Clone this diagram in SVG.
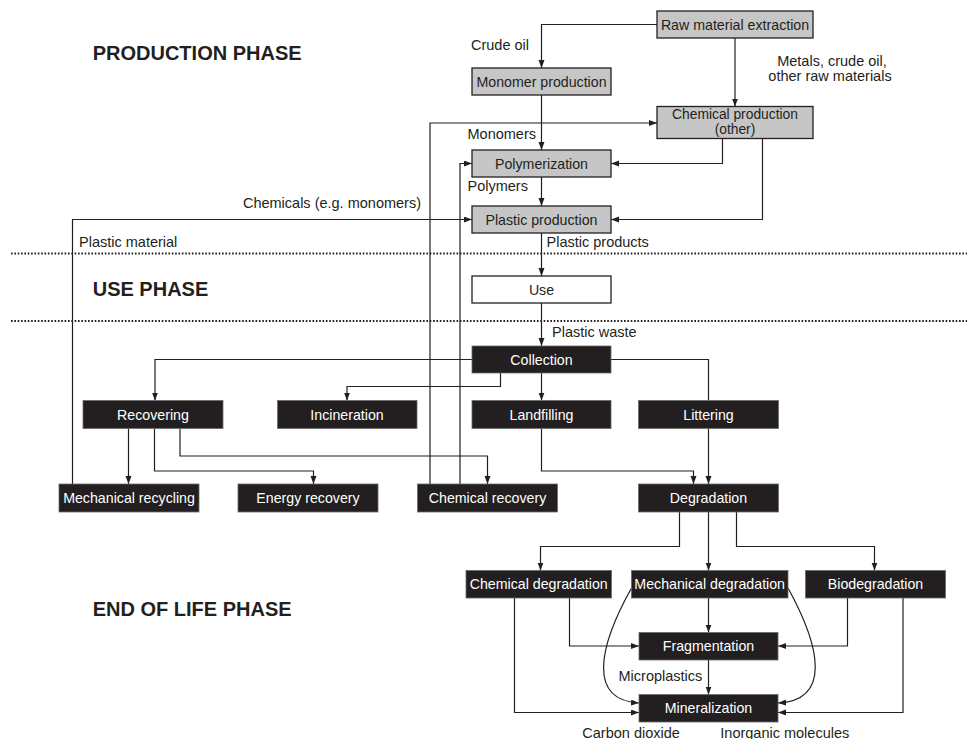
<svg xmlns="http://www.w3.org/2000/svg" width="968" height="739" viewBox="0 0 968 739">
<style>
.g rect{fill:#c6c6c6;stroke:#231f20;stroke-width:1.3}
.w rect{fill:#fff;stroke:#231f20;stroke-width:1.3}
.b rect{fill:#231f20;stroke:#6a6a6a;stroke-width:0.8}
.g text,.w text{fill:#231f20}
.b text{fill:#fff}
text{font-family:"Liberation Sans",Arial,sans-serif;font-size:14.2px}
.n text{text-anchor:middle}
.lbl{fill:#231f20;font-size:14.5px}
.ph{fill:#231f20;font-size:20px;font-weight:bold}
#connectors path{fill:none;stroke:#231f20;stroke-width:1.2}
.dot{stroke:#231f20;stroke-width:2;stroke-dasharray:1.6 1.75}
</style>
<defs>
<marker id="ah" markerUnits="userSpaceOnUse" markerWidth="9" markerHeight="7" refX="8" refY="3" orient="auto">
<path d="M0,0 L8,3 L0,6 z" fill="#231f20"/>
</marker>
</defs>
<rect width="968" height="739" fill="#fff"/>

<line class="dot" x1="11" y1="253.5" x2="967" y2="253.5"/>
<line class="dot" x1="11" y1="321" x2="967" y2="321"/>

<text class="ph" x="92.7" y="60">PRODUCTION PHASE</text>
<text class="ph" x="92.7" y="295.5">USE PHASE</text>
<text class="ph" x="92.7" y="615.5">END OF LIFE PHASE</text>

<g id="connectors">
<path d="M657,24.5 H541.5 V68" marker-end="url(#ah)"/>
<path d="M735,38 V106.5" marker-end="url(#ah)"/>
<path d="M541.5,95 V150" marker-end="url(#ah)"/>
<path d="M722.5,138.5 V163.5 H611" marker-end="url(#ah)"/>
<path d="M762.5,138.5 V219.5 H611" marker-end="url(#ah)"/>
<path d="M541.5,177 V206" marker-end="url(#ah)"/>
<path d="M541.5,233 V276" marker-end="url(#ah)"/>
<path d="M541.5,303 V346" marker-end="url(#ah)"/>
<path d="M472,359.5 H155 V400.5" marker-end="url(#ah)"/>
<path d="M500.5,373 V386.5 H347 V400.5" marker-end="url(#ah)"/>
<path d="M541.5,373 V400.5" marker-end="url(#ah)"/>
<path d="M611,359.5 H708.5 V400.5"/>
<path d="M128.5,428.5 V484" marker-end="url(#ah)"/>
<path d="M154.5,428.5 V471 H313.5 V484" marker-end="url(#ah)"/>
<path d="M180,428.5 V456 H487.5 V484" marker-end="url(#ah)"/>
<path d="M72.5,484 V219.5 H472" marker-end="url(#ah)"/>
<path d="M430,484 V123 H657" marker-end="url(#ah)"/>
<path d="M460,484 V163.5 H472" marker-end="url(#ah)"/>
<path d="M541.5,428.5 V471 H693.5 V484" marker-end="url(#ah)"/>
<path d="M708.5,428.5 V484" marker-end="url(#ah)"/>
<path d="M679.5,512 V546.5 H540.5 V570.5" marker-end="url(#ah)"/>
<path d="M708.5,512 V570.5" marker-end="url(#ah)"/>
<path d="M736.5,512 V546.5 H874.5 V570.5" marker-end="url(#ah)"/>
<path d="M708.5,598 V632.5" marker-end="url(#ah)"/>
<path d="M708.5,660 V694.5" marker-end="url(#ah)"/>
<path d="M569.5,598 V646 H639" marker-end="url(#ah)"/>
<path d="M514.5,598 V712.5 H639" marker-end="url(#ah)"/>
<path d="M847.5,598 V646 H778" marker-end="url(#ah)"/>
<path d="M903,598 V712.5 H778" marker-end="url(#ah)"/>
<path d="M631.5,588 C598,648 588,700 639,703" marker-end="url(#ah)"/>
<path d="M788,588 C821,648 831,700 778,703" marker-end="url(#ah)"/>
</g>

<g id="raw" class="n g"><rect x="657" y="11" width="156" height="27"/><text x="735" y="29.5">Raw material extraction</text></g>
<g id="monomer" class="n g"><rect x="472" y="68" width="139" height="27"/><text x="541.5" y="86.5">Monomer production</text></g>
<g id="chemprod" class="n g"><rect x="657" y="106.5" width="156" height="32"/><text x="735" y="118.5" style="font-size:13.8px">Chemical production</text><text x="735" y="133.8" style="font-size:13.8px">(other)</text></g>
<g id="polym" class="n g"><rect x="472" y="150" width="139" height="27"/><text x="541.5" y="168.5">Polymerization</text></g>
<g id="plasticprod" class="n g"><rect x="472" y="206" width="139" height="27"/><text x="541.5" y="224.5">Plastic production</text></g>
<g id="use" class="n w"><rect x="472" y="276" width="139" height="27"/><text x="541.5" y="294.5">Use</text></g>
<g id="collection" class="n b"><rect x="472" y="346" width="139" height="27"/><text x="541.5" y="364.5">Collection</text></g>
<g id="recovering" class="n b"><rect x="83" y="400.5" width="140" height="28"/><text x="153" y="419.5">Recovering</text></g>
<g id="incineration" class="n b"><rect x="277.5" y="400.5" width="139.5" height="28"/><text x="347" y="419.5">Incineration</text></g>
<g id="landfilling" class="n b"><rect x="472" y="400.5" width="139" height="28"/><text x="541.5" y="419.5">Landfilling</text></g>
<g id="littering" class="n b"><rect x="638.5" y="400.5" width="140" height="28"/><text x="708.5" y="419.5">Littering</text></g>
<g id="mechrec" class="n b"><rect x="59" y="484" width="140" height="28"/><text x="129" y="503">Mechanical recycling</text></g>
<g id="energy" class="n b"><rect x="238" y="484" width="140" height="28"/><text x="308" y="503">Energy recovery</text></g>
<g id="chemrec" class="n b"><rect x="417.5" y="484" width="140" height="28"/><text x="487.5" y="503">Chemical recovery</text></g>
<g id="degradation" class="n b"><rect x="638.5" y="484" width="140" height="28"/><text x="708.5" y="503">Degradation</text></g>
<g id="chemdeg" class="n b"><rect x="466" y="570.5" width="145.5" height="27.5"/><text x="538.7" y="589.3">Chemical degradation</text></g>
<g id="mechdeg" class="n b"><rect x="631.5" y="570.5" width="156.5" height="27.5"/><text x="709.7" y="589.3">Mechanical degradation</text></g>
<g id="biodeg" class="n b"><rect x="805.5" y="570.5" width="140" height="27.5"/><text x="875.5" y="589.3">Biodegradation</text></g>
<g id="frag" class="n b"><rect x="639" y="632.5" width="139" height="27.5"/><text x="708.5" y="651.3">Fragmentation</text></g>
<g id="mineral" class="n b"><rect x="639" y="694.5" width="139" height="27.5"/><text x="708.5" y="713.3">Mineralization</text></g>

<g id="labels">
<text class="lbl" x="471" y="50">Crude oil</text>
<text class="lbl" x="832" y="66" text-anchor="middle">Metals, crude oil,</text>
<text class="lbl" x="830" y="81" text-anchor="middle">other raw materials</text>
<text class="lbl" x="467.5" y="138.5">Monomers</text>
<text class="lbl" x="467.5" y="191">Polymers</text>
<text class="lbl" x="421" y="208" text-anchor="end">Chemicals (e.g. monomers)</text>
<text class="lbl" x="79" y="247">Plastic material</text>
<text class="lbl" x="546.5" y="247">Plastic products</text>
<text class="lbl" x="552" y="337">Plastic waste</text>
<text class="lbl" x="702.3" y="681" text-anchor="end">Microplastics</text>
<text class="lbl" x="582.3" y="737.5">Carbon dioxide</text>
<text class="lbl" x="720.3" y="737.5">Inorganic molecules</text>
</g>
</svg>
